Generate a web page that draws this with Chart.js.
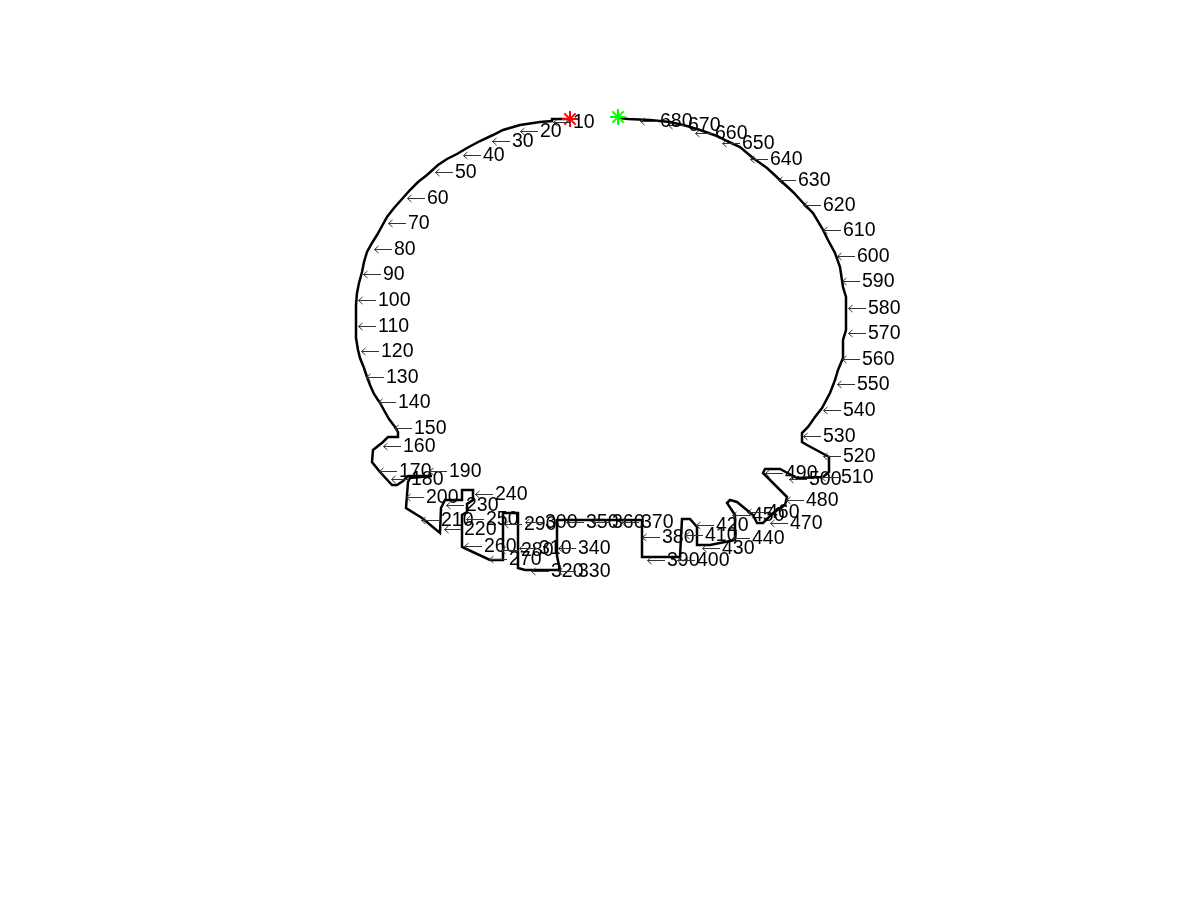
<!DOCTYPE html>
<html>
<head>
<meta charset="utf-8">
<script src="https://cdn.jsdelivr.net/npm/chart.js"></script>
<style>
html,body{margin:0;padding:0;background:#fff;}
canvas{display:block;}
</style>
</head>
<body>
<canvas id="c" width="1200" height="900"></canvas>
<script>
// Boundary trace vertices (image coordinates: column, row)
const contourX = [570,552,552,540,520,503,493,480,467,457,447,438,427,418,410,402,394,387,382,377,372,367,364,362,359,357,356,356,356,358,360,364,367,370,374,380,385,389,395,398,398,388,383,373,372,380,392,397,403,408,432,410,408,407,406,422,440,441,445,462,462,473,473,467,467,462,462,475,490,503,503,518,518,525,560,557,557,642,642,680,682,690,697,697,710,735,735,727,730,737,753,757,763,773,785,787,763,765,780,797,823,829,829,820,807,802,802,808,815,822,830,835,838,843,843,846,846,843,840,835,828,822,813,805,793,780,767,753,740,727,717,700,687,670,650,628,620];
const contourY = [119,119,121,122,125,130,135,141,148,154,159,165,175,182,190,199,208,217,226,235,243,252,262,272,283,293,305,320,338,350,358,368,377,385,394,403,412,419,427,432,437,437,442,450,462,472,485,485,481,476,476,478,482,495,508,518,533,508,500,500,490,490,500,504,512,515,547,553,560,560,513,513,568,570,570,556,520,520,557,557,519,519,527,545,545,540,515,503,500,502,515,523,523,513,505,497,473,469,469,478,477,472,457,452,445,442,433,427,417,408,393,380,370,358,340,330,297,287,267,253,240,228,213,205,192,180,168,158,147,141,136,130,126,122,120,119,118];

// Index annotations (every 10th boundary point)
const labelText = ["10","20","30","40","50","60","70","80","90","100","110","120","130","140","150","160","170","180","190","200","210","220","230","240","250","260","270","280","290","300","310","320","330","340","350","360","370","380","390","400","410","420","430","440","450","460","470","480","490","500","510","520","530","540","550","560","570","580","590","600","610","620","630","640","650","660","670","680"];
const labelX = [553,520,492,463,435,407,388,374,363,358,358,361,366,378,394,383,379,391,429,406,421,444,446,475,466,464,489,501,504,525,519,531,558,558,566,592,621,642,647,677,685,696,702,732,732,747,770,786,765,789,821,823,803,823,837,842,848,848,842,837,823,803,778,750,722,695,668,640];
const labelY = [122,131,141,155,172,198,223,249,274,300,326,351,377,402,428,446,471,479,471,497,520,529,505,494,519,546,559,550,524,522,548,571,571,548,522,522,522,537,560,560,535,525,548,538,515,512,523,500,473,479,477,456,436,410,384,359,333,308,281,256,230,205,180,159,143,133,125,121];

const startPt = [{x:570, y:119}];
const endPt = [{x:618, y:117}];

const contourData = contourX.map((x,i)=>({x:x, y:contourY[i]}));

const labelPlugin = {
  id:'indexLabels',
  afterDatasetsDraw(chart){
    const ctx = chart.ctx;
    const xs = chart.scales.x, ys = chart.scales.y;
    ctx.save();
    ctx.font = '19.5px "Liberation Sans", Arial, sans-serif';
    ctx.textBaseline = 'middle';
    ctx.textAlign = 'left';
    for(let i=0;i<labelText.length;i++){
      const px = xs.getPixelForValue(labelX[i]);
      const py = ys.getPixelForValue(labelY[i]);
      ctx.strokeStyle = '#333';
      ctx.lineWidth = 1;
      ctx.beginPath();
      ctx.moveTo(px+0.5, py+0.5);
      ctx.lineTo(px+18, py+0.5);
      ctx.moveTo(px+0.5, py+0.5);
      ctx.lineTo(px+4.5, py-3);
      ctx.moveTo(px+0.5, py+0.5);
      ctx.lineTo(px+4.5, py+4);
      ctx.stroke();
      ctx.fillStyle = '#000';
      ctx.fillText(labelText[i], px+20, py+1);
    }
    ctx.restore();
  }
};

new Chart(document.getElementById('c'), {
  type:'scatter',
  data:{
    datasets:[
      {data:contourData, showLine:true, borderColor:'#000', borderWidth:2.5, pointRadius:0, fill:false, tension:0, order:3},
      {data:startPt, pointStyle:'star', pointRadius:8, borderColor:'#ff0000', backgroundColor:'#ff0000', pointBorderWidth:2, showLine:false, order:1},
      {data:endPt, pointStyle:'star', pointRadius:8, borderColor:'#00ff00', backgroundColor:'#00ff00', pointBorderWidth:2, showLine:false, order:2}
    ]
  },
  options:{
    responsive:false,
    animation:false,
    layout:{padding:0, autoPadding:false},
    scales:{
      x:{type:'linear', min:0, max:1200, display:false},
      y:{type:'linear', min:0, max:900, reverse:true, display:false}
    },
    plugins:{legend:{display:false}, tooltip:{enabled:false}}
  },
  plugins:[labelPlugin]
});
</script>
</body>
</html>
